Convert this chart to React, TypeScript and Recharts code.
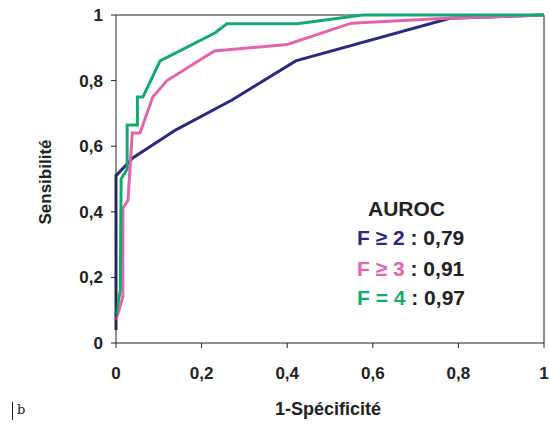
import React from "react";
import { LineChart, Line, XAxis, YAxis, ReferenceLine } from "recharts";

const xTicks = [0, 0.2, 0.4, 0.6, 0.8, 1];
const yTicks = [0, 0.2, 0.4, 0.6, 0.8, 1];

const f2 = [
  { x: 0, y: 0.04 },
  { x: 0, y: 0.51 },
  { x: 0.04, y: 0.565 },
  { x: 0.14, y: 0.65 },
  { x: 0.27, y: 0.74 },
  { x: 0.42, y: 0.86 },
  { x: 0.78, y: 0.99 },
  { x: 1, y: 1 },
];

const f3 = [
  { x: 0, y: 0.07 },
  { x: 0.016, y: 0.14 },
  { x: 0.016, y: 0.41 },
  { x: 0.028, y: 0.435 },
  { x: 0.038, y: 0.64 },
  { x: 0.056, y: 0.64 },
  { x: 0.086, y: 0.75 },
  { x: 0.119, y: 0.8 },
  { x: 0.23, y: 0.89 },
  { x: 0.4, y: 0.91 },
  { x: 0.55, y: 0.975 },
  { x: 0.77, y: 0.99 },
  { x: 1, y: 1 },
];

const f4 = [
  { x: 0, y: 0.085 },
  { x: 0.01, y: 0.16 },
  { x: 0.012, y: 0.5 },
  { x: 0.026, y: 0.53 },
  { x: 0.026, y: 0.665 },
  { x: 0.05, y: 0.665 },
  { x: 0.05, y: 0.75 },
  { x: 0.063, y: 0.75 },
  { x: 0.103, y: 0.86 },
  { x: 0.231, y: 0.945 },
  { x: 0.259, y: 0.973 },
  { x: 0.423, y: 0.973 },
  { x: 0.577, y: 1 },
  { x: 1, y: 1 },
];

const BLUE = "#2d2a7c";
const PINK = "#e065aa";
const GREEN = "#17a872";
const FONT = "'Liberation Sans', Arial, sans-serif";

const fmt = (v: number) => String(v).replace(".", ",");

export default function App() {
  const tickStyle = { fontFamily: FONT, fontSize: 17, fontWeight: "bold" as const, fill: "#222" };
  const legendLine = { position: "absolute" as const, left: 357, fontFamily: FONT, fontSize: 21, fontWeight: "bold" as const, color: "#222", whiteSpace: "pre" as const, lineHeight: "24px" };
  return (
    <div style={{ position: "absolute", left: 0, top: 0, width: 549, height: 425, background: "#fff" }}>
      <LineChart width={549} height={425} margin={{ top: 15, right: 5, bottom: 52, left: 0 }}>
        <XAxis
          type="number"
          dataKey="x"
          domain={[0, 1]}
          ticks={xTicks}
          tickFormatter={fmt}
          tickSize={5}
          tickMargin={19}
          height={30}
          allowDuplicatedCategory={false}
          stroke="#222"
          tick={tickStyle}
          interval={0}
        />
        <YAxis
          type="number"
          dataKey="y"
          domain={[0, 1]}
          ticks={yTicks}
          tickFormatter={fmt}
          tickSize={5}
          tickMargin={8}
          width={116}
          stroke="#222"
          tick={tickStyle}
          interval={0}
        />
        <ReferenceLine y={1} stroke="#222" strokeWidth={1} />
        <ReferenceLine x={1} stroke="#222" strokeWidth={1} />
        <Line data={f2} dataKey="y" type="linear" stroke={BLUE} strokeWidth={3} dot={false} isAnimationActive={false} />
        <Line data={f3} dataKey="y" type="linear" stroke={PINK} strokeWidth={3} dot={false} isAnimationActive={false} />
        <Line data={f4} dataKey="y" type="linear" stroke={GREEN} strokeWidth={3} dot={false} isAnimationActive={false} />
      </LineChart>
      <div style={{ position: "absolute", left: 46, top: 182, transform: "translate(-50%, -50%) rotate(-90deg)", fontFamily: FONT, fontSize: 17, fontWeight: "bold", color: "#222", whiteSpace: "nowrap" }}>
        Sensibilité
      </div>
      <div style={{ position: "absolute", left: 328, top: 409, transform: "translate(-50%, -50%)", fontFamily: FONT, fontSize: 18, fontWeight: "bold", color: "#222", whiteSpace: "nowrap" }}>
        1-Spécificité
      </div>
      <div style={{ position: "absolute", left: 12, top: 402, width: 1, height: 18, background: "#222" }} />
      <div style={{ position: "absolute", left: 17, top: 402, fontFamily: "'DejaVu Serif', serif", fontSize: 13, color: "#222" }}>b</div>
      <div style={{ ...legendLine, left: 368, top: 197 }}>AUROC</div>
      <div style={{ ...legendLine, top: 226 }}>
        <span style={{ color: BLUE }}>F ≥ 2</span> : 0,79
      </div>
      <div style={{ ...legendLine, top: 257 }}>
        <span style={{ color: PINK }}>F ≥ 3</span> : 0,91
      </div>
      <div style={{ ...legendLine, top: 286 }}>
        <span style={{ color: GREEN }}>F = 4</span> : 0,97
      </div>
    </div>
  );
}
